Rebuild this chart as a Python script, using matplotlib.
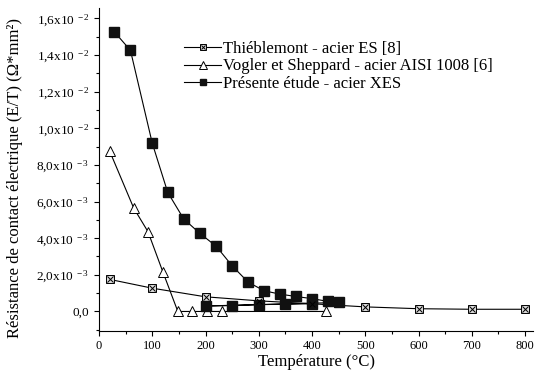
import matplotlib
matplotlib.use("Agg")
import matplotlib.pyplot as plt
from matplotlib.ticker import MultipleLocator, FuncFormatter
from matplotlib.legend_handler import HandlerTuple

plt.rcParams["font.family"] = ["Liberation Serif", "DejaVu Serif"]
plt.rcParams["mathtext.fontset"] = "custom"
plt.rcParams["mathtext.rm"] = "Liberation Serif"
plt.rcParams["mathtext.it"] = "Liberation Serif:italic"

# Thiéblemont - acier ES [8]
t_thieb = [20, 100, 200, 300, 400, 500, 600, 700, 800]
r_thieb = [1.75e-3, 1.27e-3, 0.80e-3, 0.58e-3, 0.42e-3, 0.25e-3, 0.15e-3, 0.12e-3, 0.12e-3]

# Vogler et Sheppard - acier AISI 1008 [6]
t_vogler = [20, 65, 92, 120, 148, 175, 203, 231, 427]
r_vogler = [8.75e-3, 5.65e-3, 4.35e-3, 2.15e-3, 0.0, 0.0, 0.0, 0.0, 0.0]

# Présente étude - acier XES
t_xes = [29, 59, 100, 129, 159, 189, 220, 250, 280, 310, 339, 369, 400, 430, 450,
         200, 250, 300, 350, 400]
r_xes = [15.25e-3, 14.25e-3, 9.18e-3, 6.5e-3, 5.05e-3, 4.27e-3, 3.56e-3, 2.49e-3,
         1.6e-3, 1.13e-3, 0.95e-3, 0.82e-3, 0.70e-3, 0.55e-3, 0.49e-3,
         0.30e-3, 0.32e-3, 0.37e-3, 0.40e-3, 0.42e-3]

fig = plt.figure(figsize=(5.37, 3.72), dpi=100)
ax = fig.add_axes([0.1844, 0.111, 0.8082, 0.867])

lw = 0.8
l1, = ax.plot(t_thieb, r_thieb, color="black", lw=lw, marker="s", ms=6,
              mfc="#d8d8d8", mec="black", mew=0.7, zorder=3)
l1x, = ax.plot(t_thieb, r_thieb, ls="none", marker="x", ms=4, mec="black",
               mew=0.7, zorder=4)
l2, = ax.plot(t_vogler, r_vogler, color="black", lw=lw, marker="^", ms=7.5,
              mfc="white", mec="black", mew=0.7, zorder=3)
l3, = ax.plot(t_xes, r_xes, color="black", lw=lw, marker="s", ms=6.5,
              mfc="#111111", mec="#111111", zorder=3)

ax.set_xlim(0, 815)
ax.set_ylim(-1.05e-3, 16.55e-3)
ax.spines["top"].set_visible(False)
ax.spines["right"].set_visible(False)

ax.xaxis.set_major_locator(MultipleLocator(100))
ax.xaxis.set_minor_locator(MultipleLocator(50))
ax.yaxis.set_major_locator(MultipleLocator(2e-3))
ax.yaxis.set_minor_locator(MultipleLocator(1e-3))
ax.tick_params(which="major", direction="out", length=3.5, width=0.8, labelsize=9)
ax.tick_params(which="minor", direction="out", length=2.5, width=0.8)
ax.tick_params(axis="y", labelsize=9.5)


def fmt(v, pos):
    if abs(v) < 1e-9:
        return "0,0"
    if v < 9.9e-3:
        m, e = v * 1e3, -3
    else:
        m, e = v * 1e2, -2
    return ("%.1f" % m).replace(".", ",") + "x10$^{\\ %d}$" % e


ax.yaxis.set_major_formatter(FuncFormatter(fmt))

ax.set_xlabel("Température (°C)", fontsize=12, labelpad=1)
ax.set_ylabel("Résistance de contact électrique (E/T) (Ω*mm²)", fontsize=12)
ax.yaxis.set_label_coords(-0.175, 0.475)

ax.legend([(l1, l1x), l2, l3],
          ["Thiéblemont - acier ES [8]",
           "Vogler et Sheppard - acier AISI 1008 [6]",
           "Présente étude - acier XES"],
          handler_map={tuple: HandlerTuple(ndivide=1, pad=0)},
          loc="upper left", bbox_to_anchor=(0.177, 0.925), frameon=False,
          fontsize=12, handlelength=2.2, handletextpad=0.15, labelspacing=0.1,
          borderpad=0, markerscale=0.75)

fig.savefig("out.png", dpi=100)
